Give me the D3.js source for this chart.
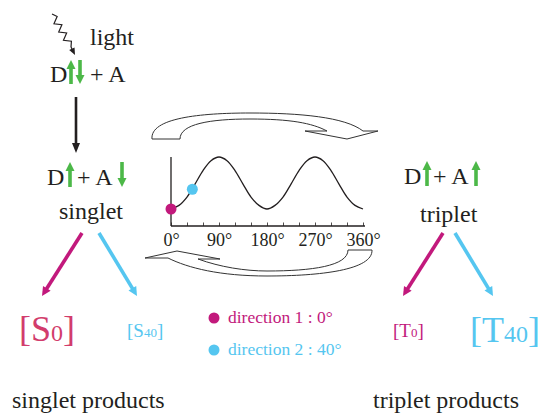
<!DOCTYPE html>
<html><head><meta charset="utf-8">
<script src="https://cdn.jsdelivr.net/npm/d3@7"></script>
<style>body{margin:0;background:#fff}svg{display:block}text{font-family:"Liberation Serif","Times New Roman",serif}</style>
</head><body>
<script>
// ---- data ----
const angles = [0,15,30,45,60,75,90,105,120,135,150,165,180,195,210,225,240,255,270,285,300,315,330,345,360];
const signal = [0,0.07,0.23,0.48,0.74,0.93,1,0.93,0.74,0.48,0.23,0.07,0,0.07,0.23,0.48,0.74,0.93,1,0.93,0.74,0.48,0.23,0.07,0];
const tickAngles = [0,30,60,90,120,150,180,210,240,270,300,330,360];
const labelAngles = [0,90,180,270,360];
const directions = [{name:"direction 1", angle:0, value:0}, {name:"direction 2", angle:40, value:0.38}];
const singletProducts = [{sp:"S", sub:"0"}, {sp:"S", sub:"40"}];
const tripletProducts = [{sp:"T", sub:"0"}, {sp:"T", sub:"40"}];

const MAG = "#c2197c", MAGTXT = "#d23c6c", BLUE = "#55c6f0", GREEN = "#4cb848", INK = "#231f20";
const dirColors = [MAG, BLUE];

const W = 539, H = 415;
const svg = d3.select("body").append("svg").attr("width", W).attr("height", H);

// arrow helper: line + filled triangle head
function arrow(g, x1, y1, x2, y2, color, sw, hl, hw) {
  const dx = x2 - x1, dy = y2 - y1, L = Math.hypot(dx, dy);
  const ux = dx / L, uy = dy / L, px = -uy, py = ux;
  const bx = x2 - ux * hl, by = y2 - uy * hl;
  g.append("line").attr("x1", x1).attr("y1", y1).attr("x2", bx + ux * 1).attr("y2", by + uy * 1)
    .attr("stroke", color).attr("stroke-width", sw);
  g.append("path").attr("d", `M${x2},${y2}L${bx + px * hw / 2},${by + py * hw / 2}L${bx - px * hw / 2},${by - py * hw / 2}Z`)
    .attr("fill", color);
}
function txt(x, y, s, size, color, anchor) {
  return svg.append("text").attr("x", x).attr("y", y).attr("font-size", size)
    .attr("fill", color || INK).attr("text-anchor", anchor || "start").text(s);
}

// ---- light zigzag ----
(function () {
  const x0 = 52, y0 = 14, x1 = 71, y1 = 47, n = 8, amp = 3.2;
  const dx = x1 - x0, dy = y1 - y0, L = Math.hypot(dx, dy);
  const px = dy / L, py = -dx / L;
  const pts = [[x0, y0]];
  for (let i = 1; i < n; i++) {
    const t = i / n, s = (i % 2 ? 1 : -1) * amp;
    pts.push([x0 + dx * t + px * s, y0 + dy * t + py * s]);
  }
  pts.push([x1, y1]);
  svg.append("path").attr("d", d3.line()(pts)).attr("fill", "none").attr("stroke", INK).attr("stroke-width", 1.2);
  arrow(svg, x1, y1, 75, 55, INK, 1.2, 7, 6);
})();
txt(90, 45, "light", 24);

// ---- D ⇅ + A ----
txt(50, 82, "D", 24);
arrow(svg, 71, 84, 71, 60, GREEN, 3.6, 9, 9);
arrow(svg, 80, 60, 80, 84, GREEN, 3.6, 9, 9);
txt(90, 82, "+ A", 24);

// black down arrow
arrow(svg, 76, 97, 76, 153, INK, 2.6, 10, 8);

// ---- singlet state ----
txt(47, 185, "D", 24);
arrow(svg, 70, 187, 70, 162, GREEN, 3.6, 9, 9);
txt(77, 185, "+ A", 24);
arrow(svg, 122, 162, 122, 187, GREEN, 3.6, 9, 9);
txt(59, 219, "singlet", 24);

// ---- triplet state ----
txt(404, 184, "D", 24);
arrow(svg, 427, 186, 427, 161, GREEN, 3.6, 9, 9);
txt(433, 184, "+ A", 24);
arrow(svg, 476, 186, 476, 161, GREEN, 3.6, 9, 9);
txt(420, 222, "triplet", 24);

// ---- branch arrows ----
arrow(svg, 82, 233, 42, 296, MAG, 3.6, 9, 9);
arrow(svg, 99, 233, 137, 296, BLUE, 3.6, 9, 9);
arrow(svg, 443, 233, 403, 296, MAG, 3.6, 9, 9);
arrow(svg, 455, 233, 493, 296, BLUE, 3.6, 9, 9);

// ---- products ----
function product(x, y, p, big, color) {
  const t = svg.append("text").attr("x", x).attr("y", y).attr("fill", color);
  const S = big ? 36 : 19, s = big ? 24 : 13;
  t.append("tspan").attr("font-size", S).text("[" + p.sp);
  t.append("tspan").attr("font-size", s).text(p.sub);
  t.append("tspan").attr("font-size", S).text("]");
}
product(19, 341, singletProducts[0], true, MAGTXT);
product(127, 337, singletProducts[1], false, BLUE);
product(393, 337, tripletProducts[0], false, MAG);
product(470, 342, tripletProducts[1], true, BLUE);

txt(12, 408, "singlet products", 24);
txt(373, 408, "triplet products", 24);

// ---- legend ----
directions.forEach((d, i) => {
  const y = 318 + i * 32;
  svg.append("circle").attr("cx", 214).attr("cy", y).attr("r", 5.5).attr("fill", dirColors[i]);
  txt(228, y + 5, `${d.name} : ${d.angle}°`, 17.5, dirColors[i]);
});

// ---- curved band arrows ----
svg.append("path")
  .attr("d", "M152,139 C150,118 200,113 250,113 C300,113 345,117 363,131 L378,131 L347,139 L305,131 L327,131 C312,123 290,119 250,119 C210,119 180,124 180,139 Z")
  .attr("fill", "#fff").attr("stroke", "#333").attr("stroke-width", 1);
svg.append("path")
  .attr("d", "M348,250 L372,250 C373,270 320,276 267,276 C220,276 188,268 168,258 L145,258 L177,251 L220,259 L198,259 C220,267 245,271 267,271 C312,271 348,266 348,250 Z")
  .attr("fill", "#fff").attr("stroke", "#333").attr("stroke-width", 1);

// ---- mini chart ----
const x = d3.scaleLinear().domain([0, 360]).range([171, 363]);
const y = d3.scaleLinear().domain([0, 1]).range([209, 157]);
const axisY = 226;
const axis = d3.axisBottom(x).tickValues(tickAngles).tickSize(-3.5).tickPadding(7)
  .tickFormat(d => labelAngles.includes(d) ? d + "°" : "");
const ag = svg.append("g").attr("transform", `translate(0,${axisY})`).call(axis);
ag.select(".domain").attr("d", `M${x(0)},0H${x(360) + 2}`).attr("stroke", INK).attr("stroke-width", 1.3);
ag.selectAll(".tick line").attr("stroke", INK).attr("stroke-width", 0.8);
ag.selectAll(".tick text").attr("font-size", 18).attr("fill", INK)
  .attr("font-family", "Liberation Serif, serif").attr("dy", "0.71em");
svg.append("line").attr("x1", x(0)).attr("x2", x(0)).attr("y1", 157).attr("y2", axisY)
  .attr("stroke", INK).attr("stroke-width", 1.3);

svg.append("path").datum(angles.map((a, i) => [a, signal[i]]))
  .attr("d", d3.line().x(d => x(d[0])).y(d => y(d[1])).curve(d3.curveCatmullRom))
  .attr("fill", "none").attr("stroke", INK).attr("stroke-width", 1.3);

directions.forEach((d, i) => {
  svg.append("circle").attr("cx", x(d.angle)).attr("cy", y(d.value)).attr("r", 5.5).attr("fill", dirColors[i]);
});
</script>
</body></html>
